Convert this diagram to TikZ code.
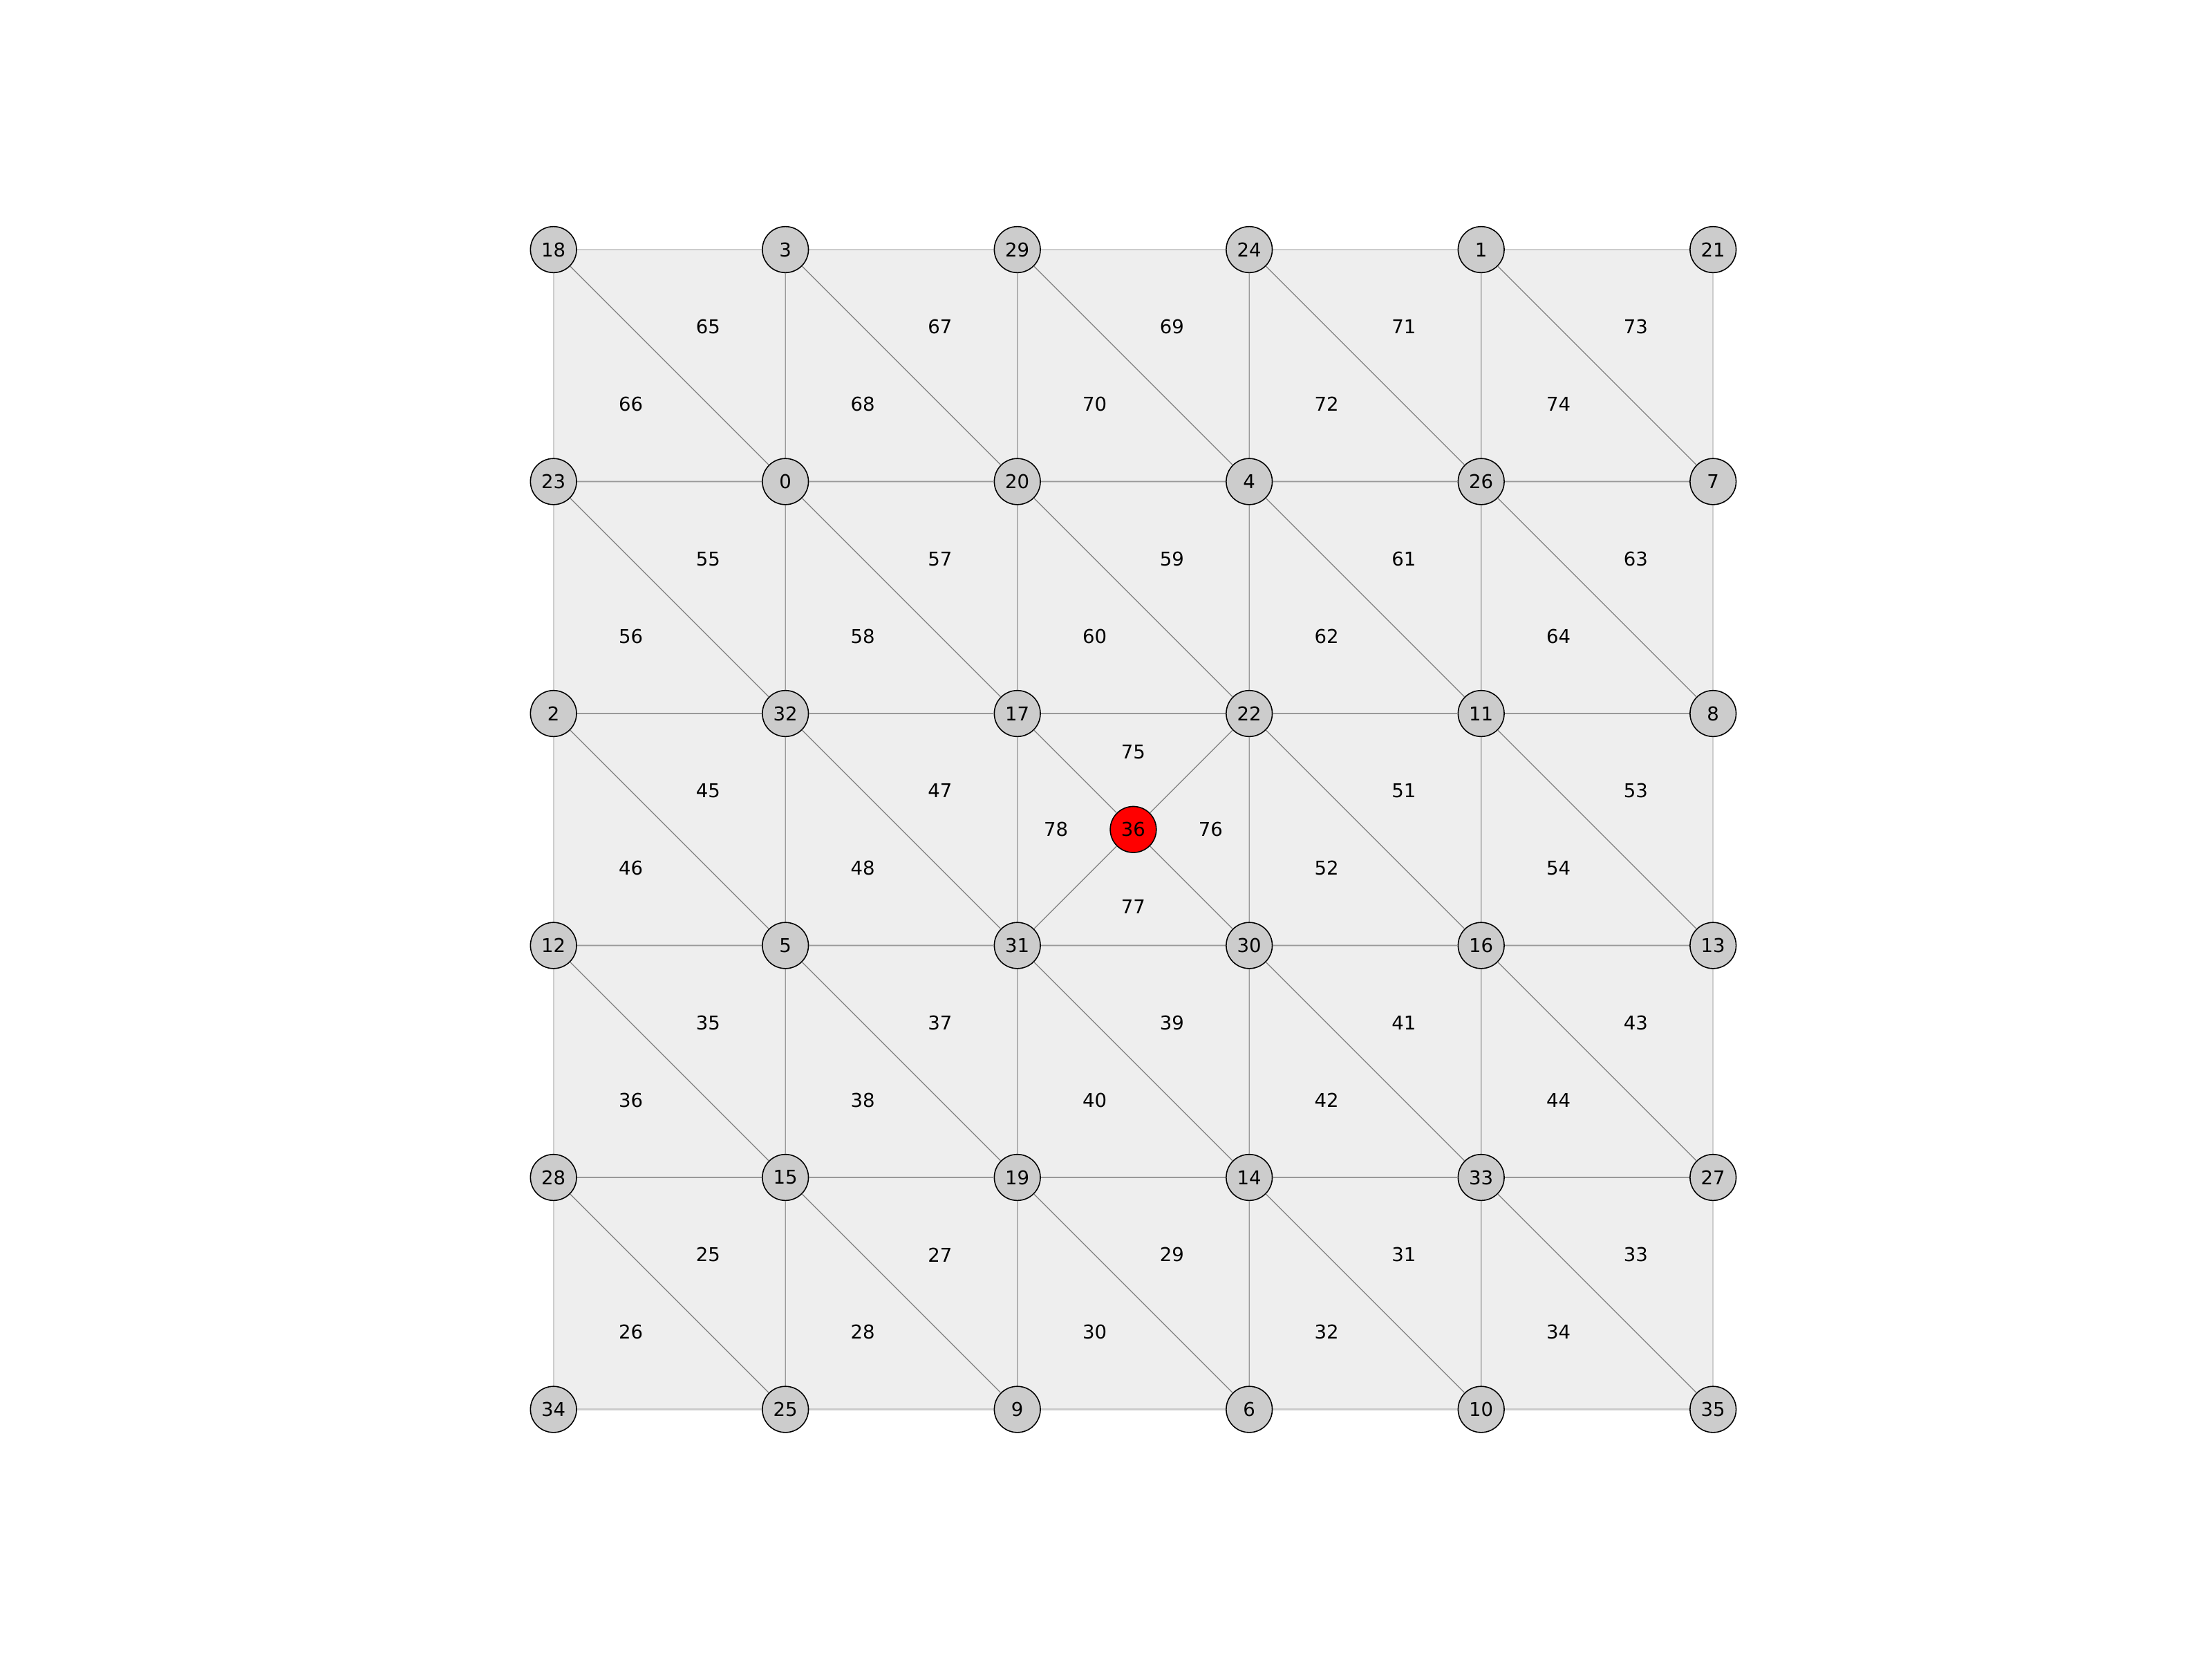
\documentclass[tikz,border=0pt]{standalone}
\usepackage{fontspec}
\setmainfont{DejaVu Sans}
\definecolor{facegray}{HTML}{EEEEEE}
\definecolor{rimgray}{HTML}{CCCCCC}
\definecolor{linkgray}{HTML}{999999}
\definecolor{diaggray}{HTML}{808080}
\definecolor{vertgray}{HTML}{CCCCCC}

\begin{document}
\begin{tikzpicture}[x=3cm,y=-3cm,
  vert/.style={circle,draw=black,line width=0.4pt,fill=vertgray,minimum size=0.596cm,inner sep=0pt,font=\fontsize{7}{8}\selectfont},
  cellline/.style={draw=rimgray,line width=0.55pt},
  link/.style={draw=linkgray,line width=0.3pt},
  diag/.style={draw=diaggray,line width=0.3pt},
  face/.style={inner sep=0pt,font=\fontsize{7}{8}\selectfont}]
\useasboundingbox (-2.3866,-1.076) rectangle (7.1514,6.0775);
% faces
\fill[facegray] (0,0) rectangle (5,5);
\draw[cellline,step=3cm] (0,0) grid (5,5);
% vertices, row by row
\foreach \row [count=\y from 0] in {{18,3,29,24,1,21},{23,0,20,4,26,7},{2,32,17,22,11,8},{12,5,31,30,16,13},{28,15,19,14,33,27},{34,25,9,6,10,35}}
  \foreach \v [count=\x from 0] in \row
    \node[vert,alias=p-\x-\y] (n\v) at (\x,\y) {\v};
\node[vert,fill=red] (n36) at (2.5,2.5) {36};
% inner grid edges
\foreach \i in {1,...,4}
  \foreach \j/\jj in {0/1,1/2,2/3,3/4,4/5}{
    \draw[link] (p-\j-\i) -- (p-\jj-\i);
    \draw[link] (p-\i-\j) -- (p-\i-\jj);}
% diagonals and face numbers
\foreach \b/\bb in {0/1,1/2,2/3,3/4,4/5}
  \foreach \a/\aa in {0/1,1/2,2/3,3/4,4/5}{
    \pgfmathtruncatemacro\isctr{(\a==2)&&(\b==2)}
    \pgfmathtruncatemacro\fu{65-10*\b+2*\a}
    \pgfmathtruncatemacro\fl{66-10*\b+2*\a}
    \ifnum\isctr=0
      \draw[diag] (p-\a-\b) -- (p-\aa-\bb);
      \node[face] (f\fu) at (\a+2/3,\b+1/3) {\fu};
      \node[face] (f\fl) at (\a+1/3,\b+2/3) {\fl};
    \fi}
% centre cell
\foreach \p in {17,22,30,31}{\draw[diag] (n36) -- (n\p);}
\node[face] (f75) at (2.5,2+1/6) {75};
\node[face] (f76) at (3-1/6,2.5) {76};
\node[face] (f77) at (2.5,3-1/6) {77};
\node[face] (f78) at (2+1/6,2.5) {78};
\end{tikzpicture}
\end{document}
